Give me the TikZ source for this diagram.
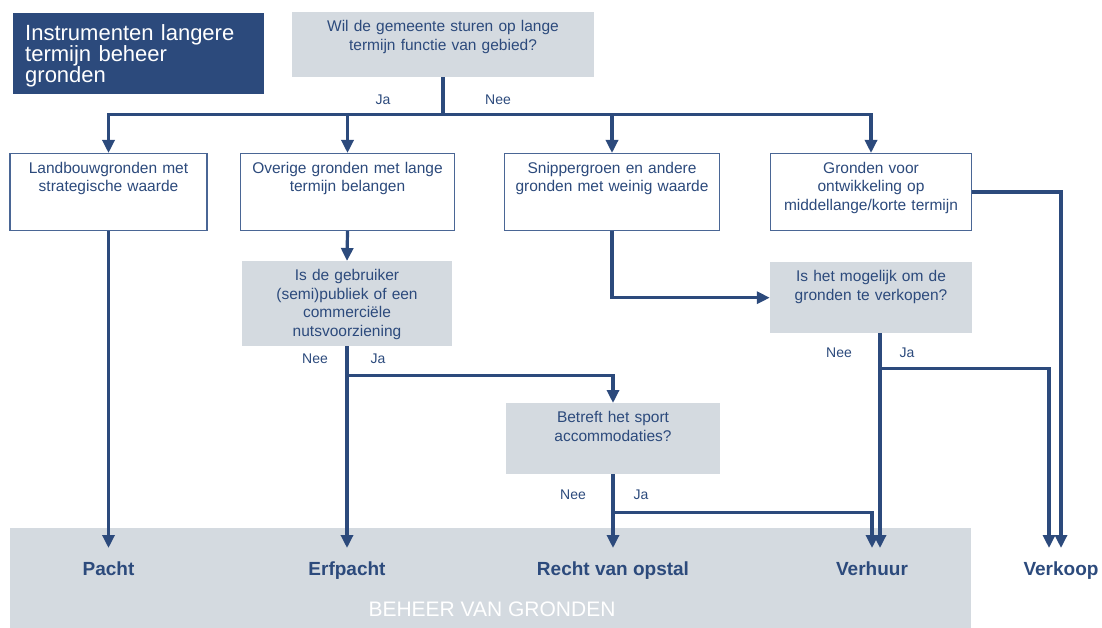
\documentclass[tikz,border=0pt]{standalone}
\usepackage{fontspec}
\setmainfont{Liberation Sans}
\usetikzlibrary{arrows.meta}
\definecolor{navy}{HTML}{2C4A7C}
\definecolor{greybox}{HTML}{D4DAE0}
\definecolor{boxline}{HTML}{4A6695}
\DeclareRobustCommand{\titlefont}{\fontsize{22}{21}\selectfont\lineskiplimit=-20pt\relax}
\begin{document}
\begin{tikzpicture}[x=1pt,y=-1pt,
    line/.style={draw=navy,line width=3.2pt},
    arr/.style={line,-{Triangle[length=13pt,width=12pt]}},
    qbox/.style={fill=greybox,text=navy,align=center,anchor=north,
      font=\fontsize{15.5}{18.5}\selectfont,inner xsep=6pt,inner ysep=4pt,text height=15.5pt},
    wbox/.style={qbox,fill=white,draw=boxline,line width=1.2pt},
    titlebox/.style={fill=navy,text=white,anchor=north west,align=left,
      minimum width=251pt,text width=227pt,inner xsep=12pt,inner ysep=6pt,
      text height=21pt,text depth=48pt,font=\titlefont},
    outcome/.style={text=navy,anchor=north,font=\fontsize{19}{22}\selectfont\bfseries,
      text height=14pt,text depth=4pt,inner ysep=13pt},
    yn/.style={text=navy,font=\fontsize{14}{16}\selectfont}]
    \useasboundingbox (0,0) rectangle (1102,628);
    \fill[greybox] (10,528) rectangle (971,628);
    \node[text=white,font=\fontsize{21}{24}\selectfont] (beheer) at (492,609) {BEHEER VAN GRONDEN};

    \node[titlebox] (title) at (13,13) {Instrumenten langere\\termijn beheer\\gronden};
    \node[qbox,text width=290pt,text depth=41.5pt] (q1) at (443,12) {Wil de gemeente sturen op lange\\termijn functie van gebied?};

    \node[wbox,text width=185pt,text depth=53.5pt] (b1) at (108.5,153) {Landbouwgronden met\\strategische waarde};
    \node[wbox,text width=202pt,text depth=53.5pt] (b2) at (347.5,153) {Overige gronden met lange\\termijn belangen};
    \node[wbox,text width=203pt,text depth=53.5pt] (b3) at (612,153) {Snippergroen en andere\\gronden met weinig waarde};
    \node[wbox,text width=189pt,text depth=53.5pt] (b4) at (871,153) {Gronden voor\\ontwikkeling op\\middellange/korte termijn};

    \node[qbox,text width=198pt,text depth=61.5pt] (q2) at (347,261) {Is de gebruiker\\(semi)publiek of een\\commerciële\\nutsvoorziening};
    \node[qbox,text width=190pt,text depth=47.5pt] (q4) at (871,262) {Is het mogelijk om de\\gronden te verkopen?};
    \node[qbox,text width=202pt,text depth=47.5pt] (q3) at (613,403) {Betreft het sport\\accommodaties?};

    \node[outcome] (pacht) at (108.5,548) {Pacht};
    \node[outcome] (erfpacht) at (347,548) {Erfpacht};
    \node[outcome] (recht) at (613,548) {Recht van opstal};
    \node[outcome] (verhuur) at (872,548) {Verhuur};
    \node[outcome] (verkoop) at (1061,548) {Verkoop};

    \node[yn] (ja1) at (383,100) {Ja};
    \node[yn] (nee1) at (498,100) {Nee};
    \node[yn] (nee2) at (315,359) {Nee};
    \node[yn] (ja2) at (378,359) {Ja};
    \node[yn] (nee4) at (839,353) {Nee};
    \node[yn] (ja4) at (907,353) {Ja};
    \node[yn] (nee3) at (573,495) {Nee};
    \node[yn] (ja3) at (641,495) {Ja};

    \draw[line] (q1.south) -- ++(0,37) coordinate (hub);
    \draw[arr] (hub) -| (b1.north);
    \draw[arr] (hub) -| (b2.north);
    \draw[arr] (hub) -| (b3.north);
    \draw[arr] (hub) -| (b4.north);

    \draw[arr] (b1.south) -- (pacht.north);
    \draw[arr] (b2.south) -- (q2.north);
    \draw[arr] (b3.south) |- (q4.west);
    \draw[arr] (b4.east) -| (verkoop.north);

    \draw[arr] (q2.south) -- (erfpacht.north);
    \draw[arr] ([yshift=-29pt]q2.south) -| (q3.north);
    \draw[arr] (q3.south) -- (recht.north);
    \draw[arr] ([yshift=-38pt]q3.south) -| (verhuur.north);
    \draw[arr] ([xshift=9pt]q4.south) -- ([xshift=9pt]q4.south |- verhuur.north);
    \draw[arr] ([xshift=9pt,yshift=-35pt]q4.south) -| ([xshift=-12pt]verkoop.north);
\end{tikzpicture}
\end{document}
